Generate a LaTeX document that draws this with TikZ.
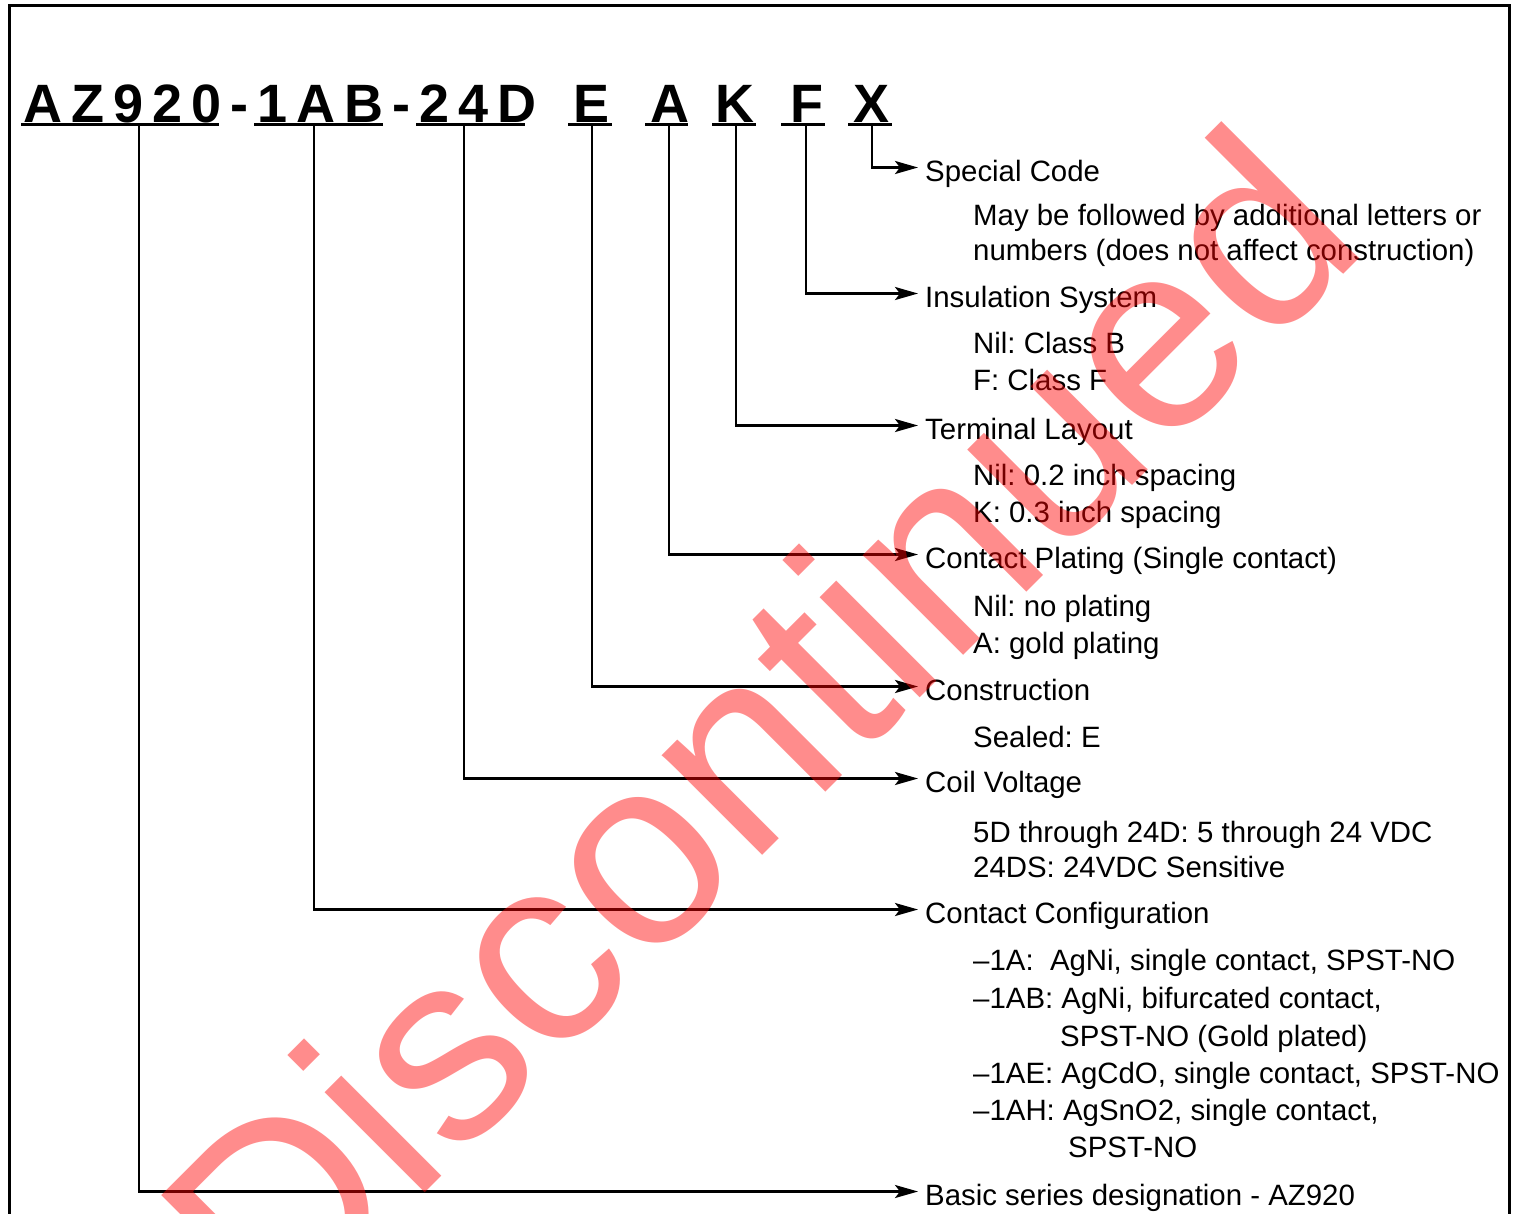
\documentclass[tikz,border=0pt]{standalone}
\usepackage{fontspec}
\setmainfont{Liberation Sans}
\usetikzlibrary{arrows.meta}
\frenchspacing
\newcommand\lblfont{\fontsize{29.4pt}{35pt}\selectfont}
\newcommand\codefnt{\fontsize{54pt}{60pt}\selectfont\bfseries}
\newcommand\wmfont{\fontsize{268pt}{268pt}\selectfont}
\newcommand\trk{\hspace{9pt}}
\begin{document}
\begin{tikzpicture}[x=1pt,y=-1pt,
  conn/.style={line width=2.6pt, -{Stealth[length=23pt,width=13pt,inset=5pt]}},
  uline/.style={line width=2.6pt},
  code/.style={font=\codefnt, inner sep=0pt, anchor=base},
  head/.style={font=\lblfont, anchor=base west, inner xsep=7pt, inner ysep=0pt, text height=27pt, text depth=0pt},
  sub/.style={font=\lblfont, anchor=base west, inner sep=0pt},
  wmark/.style={font=\wmfont, text=red, text opacity=0.45, rotate=45, anchor=base west, inner sep=0pt}]
\useasboundingbox (0,0) rectangle (1517,1213);
% frame
\draw[line width=3pt] (9,1225) -- (9,5) -- (1509,5) -- (1509,1225);
% part number
\node[code, anchor=base west] (cmain) at (23,122) {A\trk Z\trk 9\trk 2\trk 0\trk -\trk 1\trk A\trk B\trk -\trk 2\trk 4\trk D};
\node[code] (cE) at (592,122) {E};
\node[code] (cA) at (670,122) {A};
\node[code] (cK) at (735,122) {K};
\node[code] (cF) at (807,122) {F};
\node[code] (cX) at (871,122) {X};
% underlines
\draw[uline] (21,124.5) -- (219,124.5);
\draw[uline] (254,124.5) -- (383,124.5);
\draw[uline] (416,124.5) -- (525,124.5);
\draw[uline] (568,124.5) -- (612,124.5);
\draw[uline] (645,124.5) -- (688,124.5);
\draw[uline] (712,124.5) -- (756,124.5);
\draw[uline] (781,124.5) -- (825,124.5);
\draw[uline] (848,124.5) -- (892,124.5);
% connector starts
\coordinate (sAZ) at (139,124.5);
\coordinate (sAB) at (314,124.5);
\coordinate (sV) at (464,124.5);
\coordinate (sE) at (592,124.5);
\coordinate (sA) at (669,124.5);
\coordinate (sK) at (736,124.5);
\coordinate (sF) at (806,124.5);
\coordinate (sX) at (872,124.5);
% headings
\node[head] (hSpecial) at (918,181) {Special Code};
\node[head] (hIns) at (918,307) {Insulation System};
\node[head] (hTerm) at (918,439) {Terminal Layout};
\node[head] (hPlat) at (918,568) {Contact Plating (Single contact)};
\node[head] (hCons) at (918,700) {Construction};
\node[head] (hCoil) at (918,792) {Coil Voltage};
\node[head] (hConf) at (918,923) {Contact Configuration};
\node[head] (hBasic) at (918,1205) {Basic series designation - AZ920};
% sub lines
\node[sub] (d1) at (973,225) {May be followed by additional letters or};
\node[sub] (d2) at (973,260) {numbers (does not affect construction)};
\node[sub] (d3) at (973,353) {Nil: Class B};
\node[sub] (d4) at (973,390) {F: Class F};
\node[sub] (d5) at (973,485) {Nil: 0.2 inch spacing};
\node[sub] (d6) at (973,522) {K: 0.3 inch spacing};
\node[sub] (d7) at (973,616) {Nil: no plating};
\node[sub] (d8) at (973,653) {A: gold plating};
\node[sub] (d9) at (973,747) {Sealed: E};
\node[sub] (d10) at (973,842) {5D through 24D: 5 through 24 VDC};
\node[sub] (d11) at (973,877) {24DS: 24VDC Sensitive};
\node[sub] (d12) at (973,970) {–1A:\ \ AgNi, single contact, SPST-NO};
\node[sub] (d13) at (973,1008) {–1AB: AgNi, bifurcated contact,};
\node[sub] (d14) at (1060,1046) {SPST-NO (Gold plated)};
\node[sub] (d15) at (973,1083) {–1AE: AgCdO, single contact, SPST-NO};
\node[sub] (d16) at (973,1120) {–1AH: AgSnO2, single contact,};
\node[sub] (d17) at (1068,1157) {SPST-NO};
% connectors
\draw[conn] (sX) |- (hSpecial.west);
\draw[conn] (sF) |- (hIns.west);
\draw[conn] (sK) |- (hTerm.west);
\draw[conn] (sA) |- (hPlat.west);
\draw[conn] (sE) |- (hCons.west);
\draw[conn] (sV) |- (hCoil.west);
\draw[conn] (sAB) |- (hConf.west);
\draw[conn] (sAZ) |- (hBasic.west);
% watermark
\node[wmark] (wm) at (276,1342) {Discontinued};
\end{tikzpicture}
\end{document}
